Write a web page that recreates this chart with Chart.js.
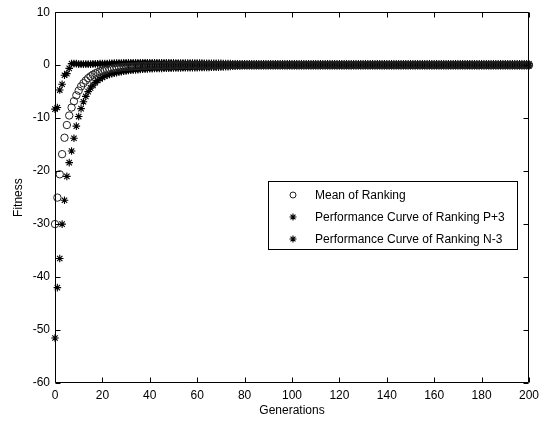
<!DOCTYPE html>
<html><head><meta charset="utf-8">
<script src="https://cdn.jsdelivr.net/npm/chart.js@4/dist/chart.umd.min.js"></script>
<style>html,body{margin:0;padding:0;background:#fff}canvas{display:block}</style>
</head><body>
<canvas id="c" width="544" height="431"></canvas>
<script>
const xTicks = [0,20,40,60,80,100,120,140,160,180,200];
const yTicks = [-60,-50,-40,-30,-20,-10,0,10];
const seriesLabels = ['Mean of Ranking','Performance Curve of Ranking P+3','Performance Curve of Ranking N-3'];
const xTitle = 'Generations';
const yTitle = 'Fitness';

const meanRanking = [
-30,-25,-20.6,-16.8,-13.7,-11.3,-9.5,-8.0,-6.8,-5.7,
-4.8,-4.0,-3.4,-2.9,-2.45,-2.1,-1.8,-1.55,-1.35,-1.17,
-1.02,-0.9,-0.8,-0.71,-0.63,-0.56,-0.5,-0.45,-0.4,-0.36,
-0.32,-0.29,-0.26,-0.23,-0.21,-0.19,-0.17,-0.15,-0.14,-0.12,
-0.11,-0.1,-0.09,-0.08,-0.08,-0.07,-0.06,-0.06,-0.05,-0.05,
-0.04,-0.04,-0.04,-0.03,-0.03,-0.03,-0.03,-0.02,-0.02,-0.02,
-0.02,-0.02,-0.01,-0.01,-0.01,-0.01,-0.01,-0.01,-0.01,0,
0,0,0,0,0,0,0,0,0,0,
0,0,0,0,0,0,0,0,0,0,0,
0,0,0,0,0,0,0,0,0,0,0,
0,0,0,0,0,0,0,0,0,0,0,
0,0,0,0,0,0,0,0,0,0,0,
0,0,0,0,0,0,0,0,0,0,0,
0,0,0,0,0,0,0,0,0,0,0,
0,0,0,0,0,0,0,0,0,0,0,
0,0,0,0,0,0,0,0,0,0,0,
0,0,0,0,0,0,0,0,0,0,0,
0,0,0,0,0,0,0,0,0,0,0,
0,0,0,0,0,0,0,0,0,0,0
];

const perfP3 = [
-8.3,-8.0,-4.7,-3.6,-1.9,-1.6,-0.6,0.3,0.3,0.3,
0.2,0.2,0.2,0.2,0.2,0.2,0.25,0.25,0.25,0.3,
0.3,0.3,0.3,0.33,0.35,0.38,0.4,0.4,0.42,0.43,
0.44,0.44,0.45,0.45,0.46,0.46,0.46,0.47,0.47,0.47,
0.46,0.46,0.45,0.45,0.45,0.44,0.44,0.44,0.43,0.43,
0.43,0.42,0.42,0.42,0.41,0.41,0.4,0.4,0.4,0.39,
0.39,0.38,0.38,0.37,0.37,0.36,0.36,0.35,0.35,0.34,
0.33,0.32,0.31,0.3,0.29,0.28,0.27,0.26,0.25,0.25,
0.25,0.25,0.25,0.25,0.25,0.25,0.25,0.25,0.25,0.25,0.25,
0.25,0.25,0.25,0.25,0.25,0.25,0.25,0.25,0.25,0.25,0.25,
0.25,0.25,0.25,0.25,0.25,0.25,0.25,0.25,0.25,0.25,0.25,
0.25,0.25,0.25,0.25,0.25,0.25,0.25,0.25,0.25,0.25,0.25,
0.25,0.25,0.25,0.25,0.25,0.25,0.25,0.25,0.25,0.25,0.25,
0.25,0.25,0.25,0.25,0.25,0.25,0.25,0.25,0.25,0.25,0.25,
0.25,0.25,0.25,0.25,0.25,0.25,0.25,0.25,0.25,0.25,0.25,
0.25,0.25,0.25,0.25,0.25,0.25,0.25,0.25,0.25,0.25,0.25,
0.25,0.25,0.25,0.25,0.25,0.25,0.25,0.25,0.25,0.25,0.25,
0.25,0.25,0.25,0.25,0.25,0.25,0.25,0.25,0.25,0.25,0.25,
0.25,0.25,0.25,0.25,0.25,0.25,0.25,0.25,0.25,0.25,0.25
];

const perfN3 = [
-51.5,-42,-36.5,-30,-25.5,-21,-18.4,-16.2,-13.8,-11.5,
-9.7,-8.2,-6.9,-5.9,-5.0,-4.3,-3.8,-3.3,-2.9,-2.6,
-2.3,-2.1,-1.9,-1.75,-1.6,-1.5,-1.4,-1.3,-1.22,-1.15,
-1.08,-1.02,-0.97,-0.92,-0.88,-0.84,-0.8,-0.77,-0.74,-0.71,
-0.68,-0.66,-0.64,-0.62,-0.61,-0.6,-0.58,-0.57,-0.56,-0.55,
-0.54,-0.53,-0.52,-0.51,-0.5,-0.5,-0.49,-0.48,-0.47,-0.46,
-0.46,-0.45,-0.44,-0.43,-0.42,-0.41,-0.4,-0.39,-0.38,-0.36,
-0.34,-0.32,-0.3,-0.27,-0.24,-0.21,-0.18,-0.15,-0.13,-0.12,
-0.1,-0.1,-0.1,-0.1,-0.1,-0.1,-0.1,-0.1,-0.1,-0.1,-0.1,
-0.1,-0.1,-0.1,-0.1,-0.1,-0.1,-0.1,-0.1,-0.1,-0.1,-0.1,
-0.1,-0.1,-0.1,-0.1,-0.1,-0.1,-0.1,-0.1,-0.1,-0.1,-0.1,
-0.1,-0.1,-0.1,-0.1,-0.1,-0.1,-0.1,-0.1,-0.1,-0.1,-0.1,
-0.1,-0.1,-0.1,-0.1,-0.1,-0.1,-0.1,-0.1,-0.1,-0.1,-0.1,
-0.1,-0.1,-0.1,-0.1,-0.1,-0.1,-0.1,-0.1,-0.1,-0.1,-0.1,
-0.1,-0.1,-0.1,-0.1,-0.1,-0.1,-0.1,-0.1,-0.1,-0.1,-0.1,
-0.1,-0.1,-0.1,-0.1,-0.1,-0.1,-0.1,-0.1,-0.1,-0.1,-0.1,
-0.1,-0.1,-0.1,-0.1,-0.1,-0.1,-0.1,-0.1,-0.1,-0.1,-0.1,
-0.1,-0.1,-0.1,-0.1,-0.1,-0.1,-0.1,-0.1,-0.1,-0.1,-0.1,
-0.1,-0.1,-0.1,-0.1,-0.1,-0.1,-0.1,-0.1,-0.1,-0.1,-0.1
];

const FONT = {family: "'Liberation Sans', Arial, sans-serif", size: 12};
const toPts = arr => arr.map((v, i) => ({x: i, y: v}));

const styles = [
  {pointStyle: 'circle', radius: 3.7, color: '#222', width: 1},
  {pointStyle: 'star', radius: 3.8, color: '#000', width: 1.1},
  {pointStyle: 'star', radius: 3.8, color: '#000', width: 1.1}
];
const seriesData = [meanRanking, perfP3, perfN3];

const frame = {
  id: 'frame',
  afterDraw(chart) {
    const ctx = chart.ctx;
    const a = chart.chartArea;
    const xs = chart.scales.x, ys = chart.scales.y;
    const L = Math.round(a.left) + 0.5, R = Math.round(a.right) - 0.5;
    const T = Math.round(a.top) + 0.5, B = Math.round(a.bottom) - 0.5;
    ctx.save();
    ctx.strokeStyle = '#000';
    ctx.lineWidth = 1;
    ctx.beginPath();
    ctx.rect(L, T, R - L, B - T);
    const tl = 5;
    xTicks.forEach(v => {
      const px = Math.round(xs.getPixelForValue(v)) + 0.5;
      ctx.moveTo(px, B); ctx.lineTo(px, B - tl);
      ctx.moveTo(px, T); ctx.lineTo(px, T + tl);
    });
    yTicks.forEach(v => {
      const py = Math.round(ys.getPixelForValue(v)) + 0.5;
      ctx.moveTo(L, py); ctx.lineTo(L + tl, py);
      ctx.moveTo(R, py); ctx.lineTo(R - tl, py);
    });
    ctx.stroke();

    // legend
    const bx = 268.5, by = 181.5, bw = 249, bh = 68;
    ctx.fillStyle = '#fff';
    ctx.fillRect(bx, by, bw, bh);
    ctx.strokeRect(bx, by, bw, bh);
    ctx.font = "12px 'Liberation Sans', Arial, sans-serif";
    ctx.textBaseline = 'middle';
    ctx.textAlign = 'left';
    const rows = [195, 217, 239];
    seriesLabels.forEach((lab, i) => {
      const s = styles[i];
      ctx.strokeStyle = s.color;
      ctx.fillStyle = 'rgba(0,0,0,0)';
      ctx.lineWidth = s.width;
      Chart.helpers.drawPoint(ctx, {pointStyle: s.pointStyle, radius: i === 0 ? 3 : 3.5, rotation: 0, borderWidth: s.width}, 293, rows[i]);
      ctx.fillStyle = '#000';
      ctx.fillText(lab, 315, rows[i] + 0.5);
    });
    ctx.restore();
  }
};

new Chart(document.getElementById('c'), {
  type: 'scatter',
  data: {
    datasets: seriesData.map((arr, i) => ({
      label: seriesLabels[i],
      data: toPts(arr),
      showLine: false,
      clip: false,
      pointStyle: styles[i].pointStyle,
      pointRadius: styles[i].radius,
      pointHoverRadius: styles[i].radius,
      pointBorderColor: styles[i].color,
      pointBackgroundColor: 'rgba(0,0,0,0)',
      pointBorderWidth: styles[i].width
    }))
  },
  options: {
    responsive: false,
    devicePixelRatio: 1,
    animation: false,
    events: [],
    layout: {padding: {top: 11, right: 15, left: 0, bottom: 0}},
    plugins: {legend: {display: false}, tooltip: {enabled: false}},
    scales: {
      x: {
        type: 'linear', min: 0, max: 200,
        afterBuildTicks: s => { s.ticks = xTicks.map(v => ({value: v})); },
        afterFit: s => { s.height = 48; },
        ticks: {font: FONT, color: '#000', padding: 5, maxRotation: 0, autoSkip: false},
        grid: {drawOnChartArea: false, drawTicks: false},
        border: {display: false},
        title: {display: true, text: xTitle, font: FONT, color: '#000', padding: {top: 0, bottom: 13}}
      },
      y: {
        type: 'linear', min: -60, max: 10,
        afterBuildTicks: s => { s.ticks = yTicks.map(v => ({value: v})); },
        afterFit: s => { s.width = 55; },
        ticks: {font: FONT, color: '#000', padding: 5, autoSkip: false},
        grid: {drawOnChartArea: false, drawTicks: false},
        border: {display: false},
        title: {display: true, text: yTitle, font: FONT, color: '#000', padding: {top: 11, bottom: 0}}
      }
    }
  },
  plugins: [frame]
});
</script>
</body></html>
